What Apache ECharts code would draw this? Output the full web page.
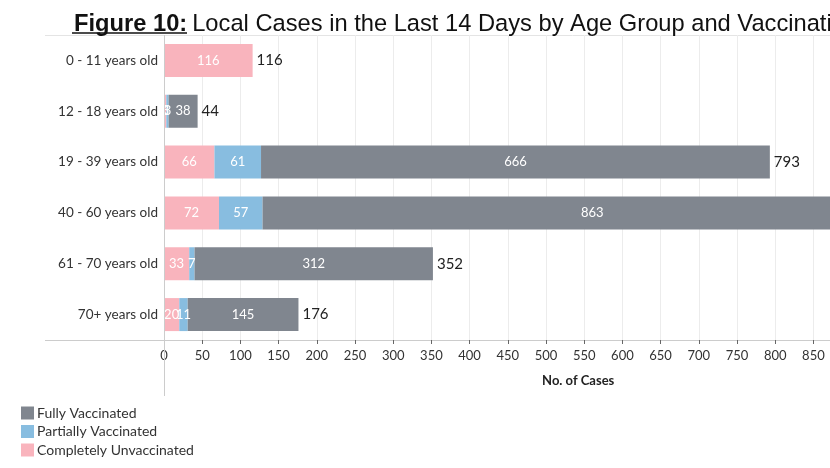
<!DOCTYPE html>
<html>
<head>
<meta charset="utf-8">
<script src="https://cdn.jsdelivr.net/npm/echarts@6/dist/echarts.min.js"></script>
<style>
html,body{margin:0;padding:0;overflow:hidden;background:#fff;}
#chart{width:1100px;height:468px;}
</style>
</head>
<body>
<div id="chart"></div>
<script>
const categories = ['0 - 11 years old','12 - 18 years old','19 - 39 years old','40 - 60 years old','61 - 70 years old','70+ years old'];
const unvaccinated = [116, 3, 66, 72, 33, 20];
const partiallyVaccinated = [0, 3, 61, 57, 7, 11];
const fullyVaccinated = [0, 38, 666, 863, 312, 145];
const totals = [116, 44, 793, 992, 352, 176];
const xTicks = {min: 0, max: 1100, interval: 50};

const font = 'Lato, "Open Sans", sans-serif';
const inside = {
  show: true, position: 'inside', color: '#fff', fontSize: 13, fontFamily: font,
  formatter: p => (p.value ? String(p.value) : '')
};

const chart = echarts.init(document.getElementById('chart'), null, {renderer: 'canvas'});
chart.setOption({
  animation: false,
  title: {
    left: 69, top: 7,
    text: '{b|Figure 10:} {n|Local Cases in the Last 14 Days by Age Group and Vaccination Status}',
    textStyle: {
      fontWeight: 'normal',
      rich: {
        b: {fontSize: 23.7, fontWeight: 'bold', fontFamily: '"Liberation Sans", Arial, sans-serif', color: '#111'},
        n: {fontSize: 23.7, fontWeight: 'normal', fontFamily: '"Liberation Sans", Arial, sans-serif', color: '#111'}
      }
    }
  },
  legend: {
    orient: 'vertical', left: 16, top: 401,
    itemWidth: 13, itemHeight: 13, itemGap: 4.5, icon: 'rect',
    data: ['Fully Vaccinated', 'Partially Vaccinated', 'Completely Unvaccinated'],
    textStyle: {fontSize: 14, color: '#333', fontFamily: font, padding: [0,0,0,-2]}
  },
  grid: {left: 164, top: 35, width: 1100 * 0.764, height: 305, containLabel: false, outerBoundsMode: 'none'},
  xAxis: {
    type: 'value', min: xTicks.min, max: xTicks.max, interval: xTicks.interval,
    name: 'No. of Cases', nameLocation: 'middle', nameGap: 34,
    nameTextStyle: {fontSize: 13, fontWeight: 'bold', color: '#222', fontFamily: font, padding: [0, 12, 0, 0]},
    axisLine: {show: true, lineStyle: {color: '#ccc'}},
    axisTick: {show: true, length: 4, lineStyle: {color: '#666'}},
    axisLabel: {fontSize: 13, color: '#333', fontFamily: font, margin: 9},
    splitLine: {show: true, lineStyle: {color: '#ececec'}}
  },
  yAxis: {
    type: 'category', data: categories, inverse: true,
    axisLine: {show: false}, axisTick: {show: false},
    axisLabel: {fontSize: 13.5, color: '#333', fontFamily: font, margin: 6}
  },
  graphic: [
    {type: 'line', shape: {x1: 45, y1: 35.5, x2: 1100, y2: 35.5}, style: {stroke: '#e4e4e4', lineWidth: 1}, z: 0},
    {type: 'line', shape: {x1: 45, y1: 340.5, x2: 164, y2: 340.5}, style: {stroke: '#ccc', lineWidth: 1}},
    {type: 'line', shape: {x1: 164.5, y1: 35, x2: 164.5, y2: 396}, style: {stroke: '#ccc', lineWidth: 1}, z: 10},
    {type: 'line', shape: {x1: 72, y1: 33, x2: 187, y2: 33}, style: {stroke: '#111', lineWidth: 1.5}}
  ],
  series: [
    {name: 'Completely Unvaccinated', type: 'bar', stack: 'a', barWidth: 33,
     itemStyle: {color: '#f9b4bd'}, label: inside, data: unvaccinated},
    {name: 'Partially Vaccinated', type: 'bar', stack: 'a', barWidth: 33,
     itemStyle: {color: '#88bde0'}, label: inside, data: partiallyVaccinated},
    {name: 'Fully Vaccinated', type: 'bar', stack: 'a', barWidth: 33,
     itemStyle: {color: '#80868f'}, label: inside, data: fullyVaccinated},
    {name: 'Total', type: 'bar', stack: 'a', barWidth: 33,
     itemStyle: {color: 'transparent'},
     label: {show: true, position: 'right', distance: 4, color: '#222', fontSize: 15, fontFamily: font,
             formatter: p => String(totals[p.dataIndex])},
     data: totals.map(() => 0)}
  ]
});
</script>
</body>
</html>
